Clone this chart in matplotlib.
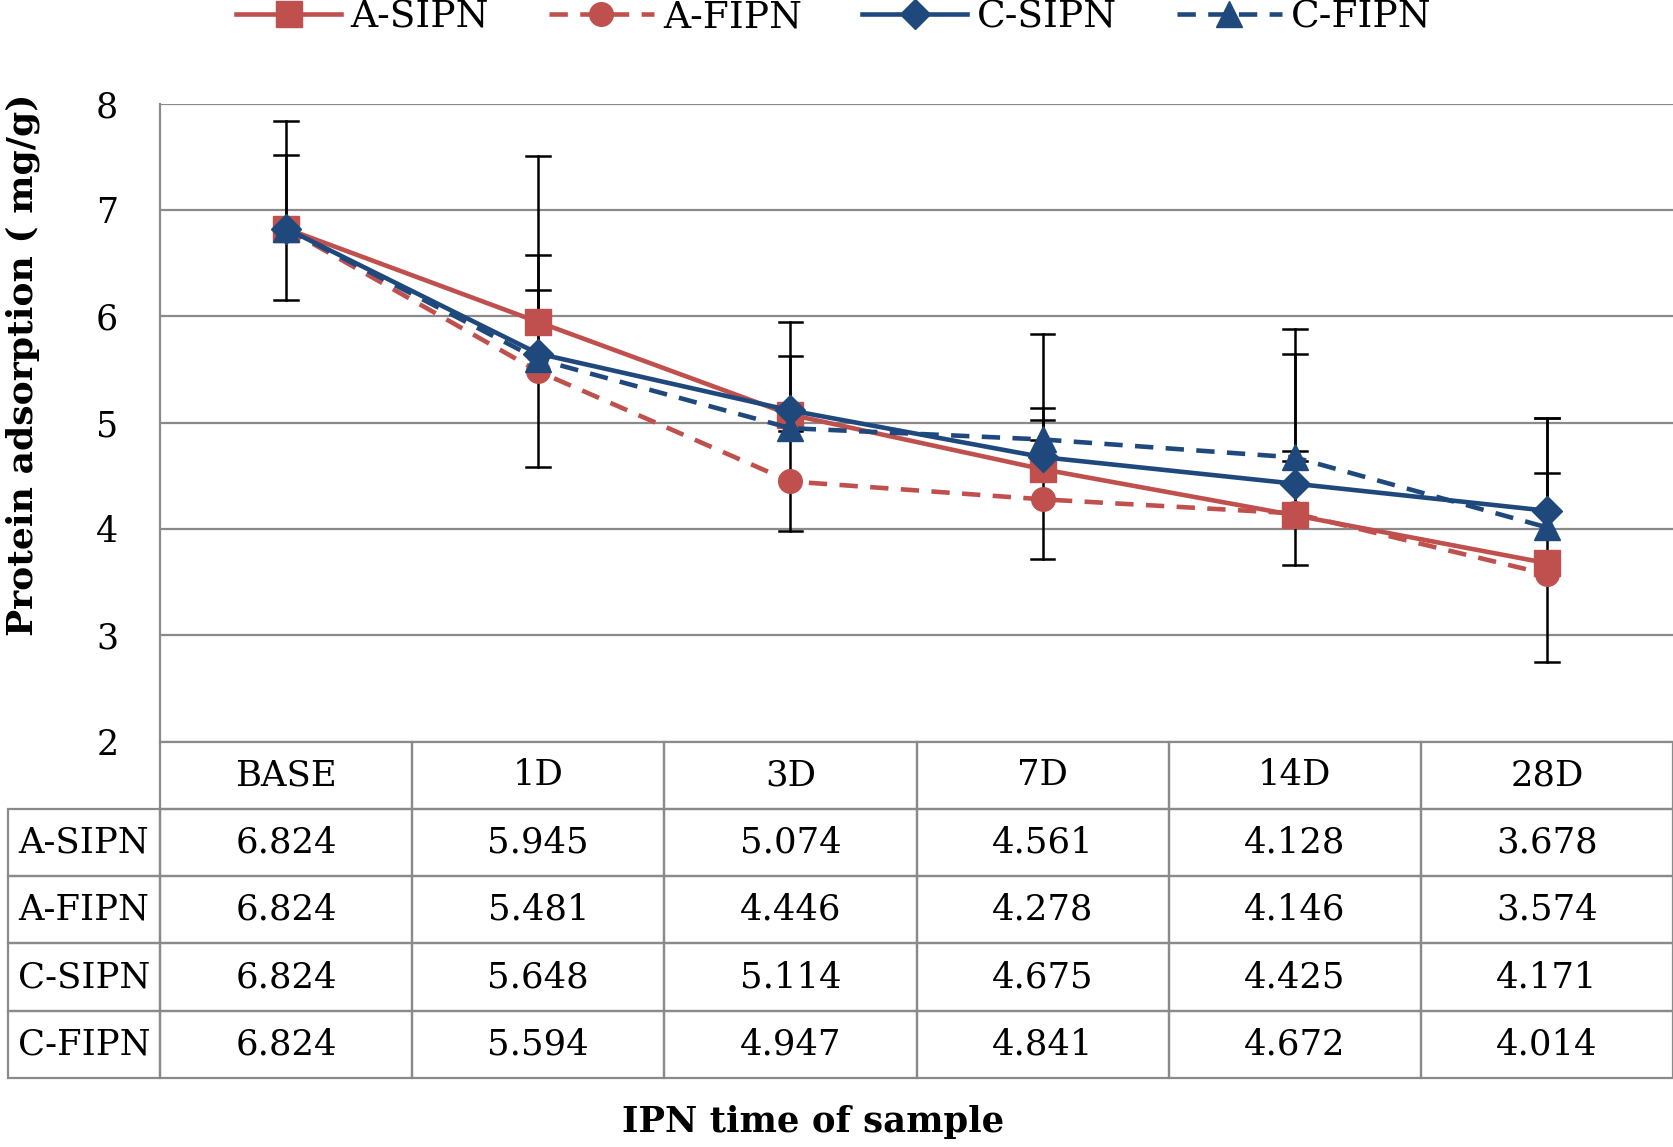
import numpy as np
import matplotlib
matplotlib.use("Agg")
import matplotlib.pyplot as plt
from matplotlib.table import Table

plt.rcParams['font.family'] = ['DejaVu Serif']

categories = ['BASE', '1D', '3D', '7D', '14D', '28D']
series = ['A-SIPN', 'A-FIPN', 'C-SIPN', 'C-FIPN']

a_sipn = [6.824, 5.945, 5.074, 4.561, 4.128, 3.678]
a_fipn = [6.824, 5.481, 4.446, 4.278, 4.146, 3.574]
c_sipn = [6.824, 5.648, 5.114, 4.675, 4.425, 4.171]
c_fipn = [6.824, 5.594, 4.947, 4.841, 4.672, 4.014]

# error bars (upper / lower part)
a_sipn_up = [1.01, 1.56, 0.87, 0.46, 0.60, 0.85]
a_sipn_dn = [0, 0, 0, 0, 0, 0]
a_fipn_up = [0.69, 0.0, 0.47, 0.56, 0.49, 0.0]
a_fipn_dn = [0.67, 0.90, 0.47, 0.56, 0.49, 0.83]
c_sipn_up = [0, 0.93, 0.51, 0.46, 1.22, 0.87]
c_sipn_dn = [0, 0, 0, 0, 0, 0]
c_fipn_up = [0, 0.65, 0, 0.99, 1.21, 1.03]
c_fipn_dn = [0, 0, 0, 0, 0, 0]

RED = '#C0504D'
BLUE = '#1F497D'
GRID = '#8a8a8a'

W, H = 1673, 1147
L, R, T, B = 160, 1673, 103.5, 741.6   # plot area in pixels

fig = plt.figure(figsize=(W / 100, H / 100), dpi=100)
ax = fig.add_axes([L / W, 1 - B / H, (R - L) / W, (B - T) / H])

x = np.arange(len(categories))
ax.set_xlim(-0.5, len(categories) - 0.5)
ax.set_ylim(2, 8)
ax.set_yticks(range(2, 9))
ax.set_xticks([])
ax.yaxis.grid(True, color=GRID, lw=1.6)
ax.set_axisbelow(True)
for s in ['top', 'right', 'bottom']:
    ax.spines[s].set_visible(False)
ax.spines['left'].set_color(GRID)
ax.spines['left'].set_linewidth(1.6)
ax.tick_params(axis='y', length=0, pad=30, labelsize=25)

data = [a_sipn, a_fipn, c_sipn, c_fipn]
ups = [a_sipn_up, a_fipn_up, c_sipn_up, c_fipn_up]
dns = [a_sipn_dn, a_fipn_dn, c_sipn_dn, c_fipn_dn]

# error bars
cap = 0.047
for vals, up, dn in zip(data, ups, dns):
    for xi, v, u, d in zip(x, vals, up, dn):
        if u > 0:
            ax.plot([xi, xi], [v, v + u], color='black', lw=1.8, zorder=2)
            ax.plot([xi - cap, xi + cap], [v + u, v + u], color='black', lw=1.8, zorder=2)
        if d > 0:
            ax.plot([xi, xi], [v, v - d], color='black', lw=1.8, zorder=2)
            ax.plot([xi - cap, xi + cap], [v - d, v - d], color='black', lw=1.8, zorder=2)

styles = [
    dict(color=RED, marker='s', ms=19, ls='-'),
    dict(color=RED, marker='o', ms=17, ls=(0, (4.0, 2.7))),
    dict(color=BLUE, marker='D', ms=15, ls='-'),
    dict(color=BLUE, marker='^', ms=19, ls=(0, (4.0, 2.7))),
]
handles = []
for i, (vals, st, name) in enumerate(zip(data, styles, series)):
    h, = ax.plot(x, vals, lw=3.3, zorder=3 + i, label=name, **st)
    handles.append(h)

fig.legend(handles, series, loc='center', bbox_to_anchor=(0.4985, 1 - 17 / H),
           ncol=4, frameon=False, fontsize=27, handlelength=2.8,
           handletextpad=0.25, columnspacing=1.6)

# data table under the plot
tl, tr, tb_ = 7.5, 1673, 1078
tab = Table(ax, bbox=[(tl - L) / (R - L), (B - tb_) / (B - T),
                      (tr - tl) / (R - L), (tb_ - B) / (B - T)])
label_w = L - tl
col_w = (R - L) / len(categories)
row_h = (tb_ - B) / (len(series) + 1)
cells = [[''] + categories]
for name, vals in zip(series, data):
    cells.append([name] + ['%.3f' % v for v in vals])
for r, row in enumerate(cells):
    for c, txt in enumerate(row):
        cell = tab.add_cell(r, c, width=label_w if c == 0 else col_w,
                            height=row_h, text=txt, loc='center',
                            facecolor='none', edgecolor=GRID)
        cell.set_linewidth(1.6)
        if r == 0 and c == 0:
            cell.visible_edges = ''
tab.auto_set_font_size(False)
tab.set_fontsize(25.5)
ax.add_table(tab)

fig.text(23 / W, 1 - 365 / H, 'Protein adsorption ( mg/g)', rotation=90,
         ha='center', va='center', fontsize=26, fontweight='bold')
fig.text(813 / W, 1 - 1122 / H, 'IPN time of sample', ha='center',
         va='center', fontsize=25.5, fontweight='bold')

fig.savefig('out.png', dpi=100)
